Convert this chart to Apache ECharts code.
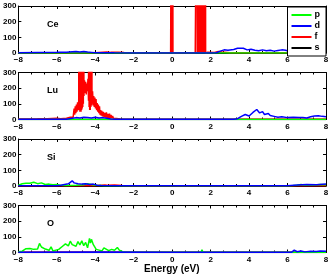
<!DOCTYPE html>
<html><head><meta charset="utf-8">
<script src="https://cdn.jsdelivr.net/npm/echarts@6/dist/echarts.min.js"></script>
<style>html,body{margin:0;padding:0;background:#fff}#c{width:332px;height:276px}</style>
</head><body><div id="c"></div><script>
// panel labels, orbitals, axis ticks
const panelNames = ['Ce', 'Lu', 'Si', 'O'];
const orbitals = ['p', 'd', 'f', 's'];
const xMin = -8, xMax = 8, xStep = 2;
const yMin = 0, yMax = 300, yStep = 100;
const xTitle = 'Energy (eV)';

// Ce panel: [energy, DOS]
const ce_p = [[-8,0.5],[8,0.5]];
const ce_s = [[-8,0.5],[8,0.5]];
const ce_d = [[-8,2],[-7,3],[-6,4],[-5.5,5],[-5.2,8],[-5.0,10],[-4.8,7],[-4.6,10],[-4.4,6],[-4.2,4],[-4,2],[-3,1],[-2,0.5],[2,0.5],[2.3,2],[2.5,12],[2.7,20],[2.9,18],[3.0,25],[3.2,22],[3.4,30],[3.5,37],[3.7,30],[3.9,20],[4.1,24],[4.3,17],[4.5,14],[4.7,20],[4.9,15],[5.1,18],[5.3,12],[5.5,16],[5.7,20],[5.9,18],[6.1,10],[6.3,7],[6.5,10],[6.7,8],[6.9,11],[7.1,7],[7.3,9],[7.5,6],[7.7,10],[7.9,14],[8,16]];
const ce_f = [[-8,1],[-4,2],[-3.4,6],[-3.2,4],[-2.8,5],[-2.5,3],[-1,1],[-0.08,1],[-0.05,0],[-0.035,1500],[-0.02,0],[-0.005,1500],[0.01,0],[0.025,1500],[0.04,0],[0.1,2],[1.2,2],[1.27,0],[1.285,1500],[1.30,0],[1.315,1500],[1.33,0],[1.345,1500],[1.36,0],[1.375,1500],[1.39,0],[1.405,1500],[1.42,0],[1.435,1500],[1.45,0],[1.465,1500],[1.48,0],[1.495,1500],[1.51,0],[1.53,0],[1.545,1500],[1.56,0],[1.575,1500],[1.59,0],[1.605,1500],[1.62,0],[1.635,1500],[1.65,0],[1.665,1500],[1.68,0],[1.695,1500],[1.71,0],[1.725,1500],[1.74,0],[1.76,5],[1.85,5],[2.2,3],[2.4,10],[2.6,6],[3,2],[8,1]];

// Lu panel
const lu_p = [[-8,0.5],[8,0.5]];
const lu_s = [[-8,0.5],[8,0.5]];
const lu_d = [[-8,1],[-5.5,2],[-5.2,8],[-5.0,12],[-4.8,10],[-4.6,14],[-4.4,12],[-4.2,10],[-4.0,14],[-3.8,10],[-3.6,12],[-3.4,8],[-3.2,3],[-3,1],[1.2,1],[1.3,5],[1.35,1],[1.6,1],[1.65,4],[1.7,1],[3.2,1],[3.4,5],[3.6,20],[3.8,32],[4.0,22],[4.2,45],[4.4,64],[4.55,42],[4.7,50],[4.8,32],[4.9,42],[5.0,38],[5.1,25],[5.2,34],[5.3,20],[5.5,15],[5.7,17],[6.0,12],[6.3,14],[6.6,12],[6.7,22],[6.8,12],[7.0,10],[7.2,18],[7.4,22],[7.5,14],[7.6,24],[7.8,20],[8,18]];
const lu_f = [[-8,3],[-7,4],[-6.5,5],[-6,8],[-5.8,5],[-5.5,8],[-5.3,14],[-5.2,25],[-5.15,15],[-5.1,70],[-5.07,30],[-5.04,85],[-5.01,40],[-4.98,95],[-4.95,50],[-4.92,110],[-4.89,60],[-4.86,120],[-4.845,1500],[-4.83,60],[-4.815,1500],[-4.80,50],[-4.785,1500],[-4.77,60],[-4.755,1500],[-4.74,50],[-4.725,1500],[-4.71,60],[-4.695,1500],[-4.68,70],[-4.665,1500],[-4.65,80],[-4.635,1500],[-4.62,100],[-4.605,1500],[-4.59,150],[-4.56,250],[-4.53,170],[-4.5,240],[-4.47,160],[-4.44,230],[-4.41,180],[-4.38,260],[-4.35,120],[-4.335,1500],[-4.32,80],[-4.305,1500],[-4.29,60],[-4.275,1500],[-4.26,60],[-4.245,1500],[-4.23,80],[-4.215,1500],[-4.2,90],[-4.185,1500],[-4.17,100],[-4.14,180],[-4.11,90],[-4.08,150],[-4.05,80],[-4.02,140],[-3.99,70],[-3.96,130],[-3.93,60],[-3.9,105],[-3.87,50],[-3.84,95],[-3.81,40],[-3.78,85],[-3.75,30],[-3.72,60],[-3.69,25],[-3.66,55],[-3.62,20],[-3.58,48],[-3.54,15],[-3.5,42],[-3.46,12],[-3.42,45],[-3.38,10],[-3.34,35],[-3.3,10],[-3.26,38],[-3.22,8],[-3.18,30],[-3.14,8],[-3.1,22],[-3.05,6],[-3.0,18],[-2.95,4],[-2.9,6],[-2.7,3],[-2,2],[8,2]];

// Si panel
const si_s = [[-8,0.5],[8,0.5]];
const si_p = [[-8,5],[-7.8,14],[-7.6,18],[-7.4,17],[-7.2,24],[-7.0,15],[-6.8,20],[-6.6,10],[-6.5,22],[-6.4,12],[-6.2,8],[-6.0,10],[-5.8,5],[-5.5,3],[-5,5],[-4.6,8],[-4.4,14],[-4.3,22],[-4.2,10],[-4,5],[-3.5,2],[-2,1],[6,1],[6.3,3],[6.4,15],[6.5,5],[6.7,10],[6.9,5],[7.1,8],[7.4,6],[7.7,10],[8,8]];
const si_d = [[-8,1],[-6,2],[-5.8,5],[-5.6,10],[-5.4,14],[-5.3,20],[-5.2,33],[-5.1,20],[-5.0,28],[-4.9,15],[-4.8,24],[-4.7,12],[-4.5,14],[-4.3,10],[-4.1,12],[-3.9,5],[-3.7,3],[-3,1],[6,1],[6.5,6],[7,10],[7.5,8],[8,12]];
const si_f = [[-8,1],[-4,2],[-3.5,6],[-3.3,4],[-3.0,6],[-2.6,3],[-2,1],[8,1]];

// O panel
const o_s = [[-8,0.5],[8,0.5]];
const o_f = [[-8,1],[8,1]];
const o_p = [[-8,5],[-7.8,8],[-7.6,24],[-7.4,26],[-7.2,20],[-7.0,22],[-6.9,58],[-6.8,35],[-6.7,44],[-6.6,22],[-6.5,34],[-6.4,14],[-6.3,36],[-6.2,10],[-6.1,12],[-5.9,20],[-5.7,40],[-5.55,55],[-5.4,42],[-5.3,72],[-5.2,50],[-5.1,62],[-5.0,40],[-4.9,70],[-4.8,48],[-4.7,74],[-4.6,44],[-4.5,64],[-4.4,30],[-4.3,90],[-4.25,60],[-4.2,84],[-4.1,50],[-4.0,62],[-3.95,20],[-3.8,15],[-3.65,10],[-3.55,30],[-3.45,24],[-3.3,12],[-3.15,20],[-3.0,14],[-2.85,32],[-2.75,15],[-2.65,12],[-2.55,4],[-2.3,1],[1.5,1],[1.55,18],[1.6,1],[8,1]];
const o_d = [[-8,1],[-4,3],[0,1],[6.2,1],[6.35,15],[6.5,5],[6.7,10],[6.9,4],[7.2,8],[7.5,6],[7.7,10],[8,8]];

const panelData = [
  {p: ce_p, d: ce_d, f: ce_f, s: ce_s},
  {p: lu_p, d: lu_d, f: lu_f, s: lu_s},
  {p: si_p, d: si_d, f: si_f, s: si_s},
  {p: o_p, d: o_d, f: o_f, s: o_s}
];
const colors = {p: '#00ff00', d: '#0000ff', f: '#ff0000', s: '#000000'};
const drawOrder = ['s', 'f', 'p', 'd'];

const FONT = 'Liberation Sans';
const tops = [6, 72.5, 139, 205.5];
const H = 47;
const grid = [], xAxis = [], yAxis = [], series = [], graphic = [];
const minus = v => String(v).replace('-', '\u2212');

tops.forEach((t, i) => {
  grid.push({left: 16, right: 6, top: t, height: H, show: false});
  const axBase = {
    type: 'value', gridIndex: i, min: xMin, max: xMax, interval: xStep,
    axisLine: {show: true, onZero: false, lineStyle: {color: '#000', width: 1}},
    axisTick: {show: true, inside: true, length: 3, lineStyle: {color: '#000'}},
    minorTick: {show: true, splitNumber: 3, length: 2, lineStyle: {color: '#000'}},
    splitLine: {show: false}, minorSplitLine: {show: false}
  };
  xAxis.push(Object.assign({}, axBase, {position: 'bottom',
    axisLabel: {show: true, margin: 3, fontSize: 8, fontWeight: 'bold', fontFamily: FONT, color: '#000', formatter: minus, hideOverlap: false}}));
  xAxis.push(Object.assign({}, axBase, {position: 'top', axisLabel: {show: false}}));
  const yBase = {
    type: 'value', gridIndex: i, min: yMin, max: yMax, interval: yStep,
    axisLine: {show: true, onZero: false, lineStyle: {color: '#000', width: 1}},
    axisTick: {show: true, inside: true, length: 3, lineStyle: {color: '#000'}},
    splitLine: {show: false}
  };
  yAxis.push(Object.assign({}, yBase, {position: 'left',
    axisLabel: {show: true, margin: 2, fontSize: 8, fontWeight: 'bold', fontFamily: FONT, color: '#000'}}));
  yAxis.push(Object.assign({}, yBase, {position: 'right', axisLabel: {show: false}}));

  drawOrder.forEach(o => {
    series.push({
      name: o, type: 'line', xAxisIndex: 2 * i, yAxisIndex: 2 * i,
      data: panelData[i][o], showSymbol: false, symbol: 'none', clip: true,
      lineStyle: {color: colors[o], width: 1.5}, itemStyle: {color: colors[o]},
      animation: false
    });
  });

  graphic.push({type: 'text', left: 47, top: t + 14,
    style: {text: panelNames[i], font: 'bold 9px "Liberation Sans"', fill: '#000'}});
});

graphic.push({type: 'text', left: 144, top: 264,
  style: {text: xTitle, font: 'bold 10px "Liberation Sans"', fill: '#000'}});

const chart = echarts.init(document.getElementById('c'), null, {renderer: 'canvas'});
chart.setOption({
  animation: false,
  backgroundColor: '#fff',
  grid, xAxis, yAxis, series, graphic,
  legend: {
    data: orbitals, orient: 'vertical', right: 6, top: 7,
    icon: 'rect', itemWidth: 20, itemHeight: 2, itemGap: 1,
    padding: [3, 6, 3, 4], borderColor: '#000', borderWidth: 1, backgroundColor: '#fff',
    textStyle: {fontSize: 9, fontWeight: 'bold', fontFamily: FONT, color: '#000', lineHeight: 10, padding: [0, 0, 0, -2]}
  }
});
</script></body></html>
